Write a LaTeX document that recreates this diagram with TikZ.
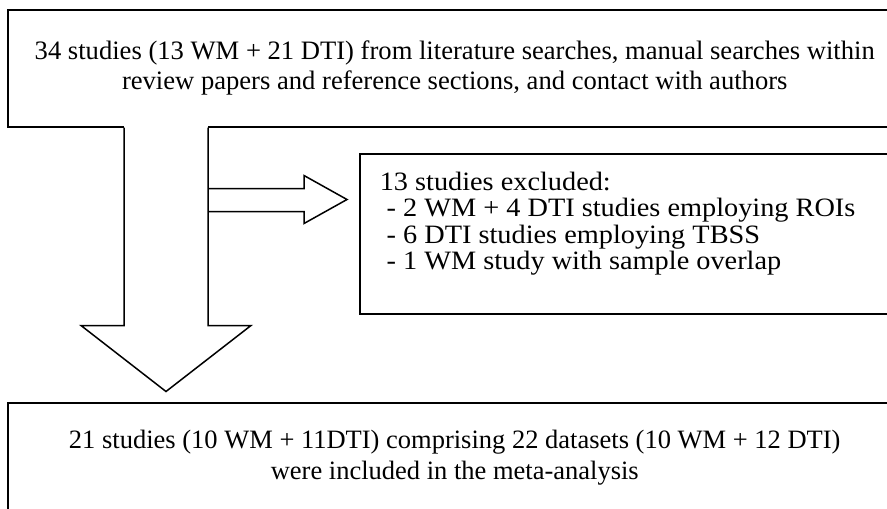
\documentclass[tikz,border=0pt]{standalone}
\usepackage{fontspec}
\setmainfont{Liberation Serif}
\tikzset{
  flowbox/.style={draw=black, line width=1.5pt, anchor=north west},
  blockarrow/.style={draw=black, line width=1.5pt, fill=white, line join=miter},
}

\begin{document}
\begin{tikzpicture}[x=1pt, y=-1pt, font=\fontsize{26.5}{30}\selectfont]
\useasboundingbox (0,0) rectangle (887,509);
\clip (0,0) rectangle (887,509);

\node[flowbox, minimum width=894pt, minimum height=117pt, align=center,
  font=\fontsize{26.6}{30}\selectfont] (src) at (7,9) {%
34 studies (13 WM + 21 DTI) from literature searches, manual searches within\\
review papers and reference sections, and contact with authors
};

\node[flowbox, inner xsep=20pt, inner ysep=18pt] (excl) at (359,153) {%
\scalebox{1.068}[1]{\parbox[t][124pt][t]{505pt}{\fontsize{26.5}{26.5}\selectfont\raggedright
13 studies excluded:\\
\hspace*{6.5pt}- 2 WM + 4 DTI studies employing ROIs\\
\hspace*{6.5pt}- 6 DTI studies employing TBSS\\
\hspace*{6.5pt}- 1 WM study with sample overlap}}
};

\node[flowbox, minimum width=894pt, minimum height=110pt, align=center,
  font=\fontsize{26.5}{31}\selectfont] (incl) at (7,402) {%
21 studies (10 WM + 11DTI) comprising 22 datasets (10 WM + 12 DTI)\\
were included in the meta-analysis
};

% side arrow to the excluded studies
\draw[blockarrow] ([xshift=201pt, yshift=-61pt]src.south west) -- ++(96,0) -- ++(0,-13)
  -- ++(43,24) -- ++(-43,24) -- ++(0,-12) -- ++(-96,0);

% big arrow down to the included studies
\path[fill=white] ([xshift=117pt, yshift=3pt]src.south west) -- ++(0,201) -- ++(84,0) -- ++(0,-201) -- cycle;
\draw[blockarrow, fill=none] ([xshift=117pt]src.south west) -- ++(0,198) -- ++(-43,0)
  -- ++(85,66) -- ++(85,-66) -- ++(-43,0) -- ++(0,-198);

\end{tikzpicture}
\end{document}
